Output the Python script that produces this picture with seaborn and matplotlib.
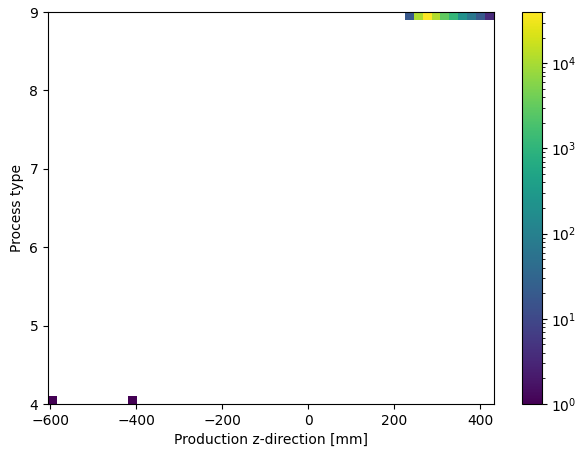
import numpy as np
import pandas as pd
import matplotlib
matplotlib.use("Agg")
import matplotlib.pyplot as plt
from matplotlib.colors import LogNorm
import seaborn as sns

# Production vertex z [mm], process type, and number of particles per cell
z_mm = [-600, -410, 235, 256, 276, 297, 318, 339, 359, 380, 401, 422]
process_type = [4, 4, 9, 9, 9, 9, 9, 9, 9, 9, 9, 9]
counts = [1, 1, 18, 11000, 40000, 12000, 3000, 1100, 200, 70, 19, 3.6]

z_range = (-605, 432)
type_range = (4, 9)

df = pd.DataFrame({"z": z_mm, "ptype": process_type, "n": counts})

W, H = 577, 453
fig = plt.figure(figsize=(W / 100, H / 100), dpi=100)
ax = fig.add_axes([48 / W, (H - 404) / H, (494 - 48) / W, (404 - 12) / H])
cax = fig.add_axes([522 / W, (H - 404) / H, (541.5 - 522) / W, (404 - 12) / H])

sns.histplot(
    data=df, x="z", y="ptype", weights="n",
    bins=50, binrange=(z_range, type_range),
    cmap="viridis", norm=LogNorm(), vmin=None, vmax=None,
    cbar=True, cbar_ax=cax, ax=ax,
)
ax.set_xlim(*z_range)
ax.set_ylim(*type_range)
ax.set_xlabel("Production z-direction [mm]")
ax.set_ylabel("Process type")

fig.savefig("out.png", dpi=100)
